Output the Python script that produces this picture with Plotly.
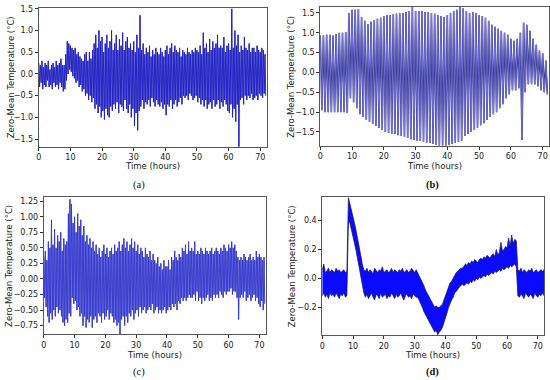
import plotly.graph_objects as go

# ---------------- data ----------------
hours_ticks = [0, 10, 20, 30, 40, 50, 60, 70]

# panel (a): half-hour spike highs / lows, t = 0, 0.5, ..., 71.5
a_hi = [0.25,0.2,0.3,0.15,0.25,0.2,0.3,0.1,0.2,0.25,0.15,0.3,0.2,0.25,0.35,0.2,
        0.2,0.45,0.75,0.7, 0.65,0.6,0.55,0.6, 0.45,0.5,0.4,0.35, 0.3,0.45,0.5,0.3,
        0.5,0.35,0.55,0.7, 0.9,0.6,1.0,0.75, 0.85,0.5,0.7,0.9, 0.6,0.75,1.0,0.55,
        0.7,0.9,0.55,0.8, 0.65,0.95,0.55,0.75, 0.85,0.6,0.7,0.55, 0.75,0.5,0.9,0.6,
        1.35,0.55,0.7,0.45, 0.6,0.5,0.65,0.4, 0.55,0.45,0.6,0.5, 0.45,0.6,0.5,0.4,
        0.55,0.65,0.45,0.6, 0.7,0.5,0.65,0.55, 0.5,0.6,0.4,0.55, 0.5,0.45,0.6,0.5,
        0.45,0.55,0.5,0.6, 0.55,0.5,0.65,0.45, 0.95,0.6,0.7,0.5, 0.8,0.55,0.75,0.6,
        0.7,0.9,0.6,0.65, 0.6,0.85,0.5,0.65, 0.7,0.55,1.5,0.6, 1.0,0.65,0.9,0.5,
        0.65,0.55,0.85,0.6, 0.55,0.7,0.5,0.6, 0.6,0.5,0.65,0.55, 0.5,0.6,0.55,0.45]
a_lo = [-0.3,-0.2,-0.35,-0.25,-0.3,-0.15,-0.3,-0.25,-0.35,-0.2,-0.3,-0.25,-0.35,-0.2,-0.3,-0.4,
        -0.35,-0.15,0.0,0.1, 0.05,-0.05,-0.1,-0.2, -0.15,-0.3,-0.25,-0.4, -0.35,-0.5,-0.45,-0.6,
        -0.5,-0.65,-0.55,-0.8, -0.7,-0.9,-0.75,-1.0, -0.85,-1.05,-0.8,-0.95, -1.0,-0.75,-0.85,-0.7,
        -0.8,-0.65,-0.9,-0.7, -0.75,-0.85,-0.6,-0.8, -0.9,-0.7,-1.0,-0.8, -1.2,-0.9,-1.3,-0.85,
        -0.75,-0.6,-0.8,-0.65, -0.7,-0.6,-0.75,-0.55, -0.65,-0.75,-0.6,-0.7, -0.75,-0.65,-0.8,-0.7,
        -0.95,-0.7,-0.75,-0.6, -0.8,-0.7,-0.6,-0.75, -0.65,-0.55,-0.7,-0.5, -0.55,-0.5,-0.6,-0.45,
        -0.5,-0.6,-0.55,-0.5, -0.65,-0.55,-0.7,-0.6, -0.75,-0.6,-0.8,-0.7, -0.65,-0.8,-0.6,-0.75,
        -0.7,-0.6,-0.8,-0.65, -0.75,-0.6,-0.7,-0.85, -0.9,-0.7,-1.0,-0.8, -1.1,-0.7,-1.68,-0.6,
        -0.55,-0.7,-0.5,-0.6, -0.5,-0.55,-0.45,-0.6, -0.55,-0.5,-0.6,-0.45, -0.5,-0.55,-0.45,-0.5]

# panel (b): hourly cycle highs / lows, t = 0 .. 71
b_hi = [0.93,0.93,0.95,0.95,0.93,0.97,1.0,1.0,1.02,1.5,
        1.58,1.58,1.6,1.4,1.3,1.22,1.28,1.32,1.35,1.38,
        1.42,1.45,1.45,1.47,1.48,1.5,1.5,1.52,1.54,1.65,
        1.55,1.55,1.55,1.52,1.52,1.5,1.48,1.45,1.42,1.4,
        1.45,1.5,1.55,1.58,1.65,1.62,1.55,1.5,1.52,1.5,
        1.45,1.42,1.38,1.3,1.2,1.15,1.1,1.05,1.0,0.95,
        0.85,0.8,0.85,1.0,1.25,1.2,1.05,0.85,0.7,0.55,
        0.48,0.3]
b_lo = [-0.95,-1.0,-1.0,-1.0,-1.0,-1.0,-1.0,-1.0,-1.02,-0.65,
        -0.75,-0.9,-1.05,-1.12,-1.2,-1.25,-1.3,-1.35,-1.4,-1.45,
        -1.5,-1.52,-1.55,-1.55,-1.58,-1.6,-1.62,-1.65,-1.68,-1.7,
        -1.72,-1.72,-1.75,-1.77,-1.78,-1.8,-1.82,-1.85,-1.85,-1.85,
        -1.83,-1.8,-1.78,-1.75,-1.72,-1.6,-1.55,-1.5,-1.45,-1.4,
        -1.33,-1.28,-1.2,-1.12,-1.05,-1.0,-0.9,-0.8,-0.65,-0.55,
        -0.45,-0.45,-0.4,-1.7,-0.5,-0.3,-0.3,-0.3,-0.35,-0.45,
        -0.5,-0.55]

# panel (c): half-hour spike highs / lows, t = 0, 0.5, ..., 71.5
c_hi = [0.35,0.45,0.3,0.6,0.5,0.95,0.55,0.8,0.5,0.7,0.6,0.75,0.45,0.65,0.55,0.6,
        1.05,1.28,1.2,0.9, 1.0,0.75,1.05,0.85, 0.95,0.7,0.85,0.6, 0.7,0.55,0.65,0.5,
        0.6,0.45,0.55,0.4, 0.5,0.35,0.45,0.55, 0.4,0.5,0.35,0.45, 0.5,0.4,0.55,0.45,
        0.5,0.6,0.45,0.55, 0.65,0.5,0.6,0.45, 0.55,0.65,0.5,0.6, 0.45,0.55,0.4,0.5,
        0.45,0.35,0.5,0.4, 0.35,0.45,0.3,0.4, 0.3,0.25,0.35,0.2, 0.25,0.15,0.3,0.2,
        0.2,0.3,0.15,0.35, 0.3,0.45,0.35,0.3, 0.4,0.35,0.5,0.45, 0.55,0.4,0.6,0.45,
        0.5,0.45,0.6,0.4, 0.45,0.4,0.5,0.45, 0.4,0.5,0.45,0.4, 0.45,0.5,0.4,0.45,
        0.5,0.45,0.4,0.5, 0.45,0.55,0.5,0.45, 0.55,0.5,0.6,0.5, 0.55,0.45,0.35,0.3,
        0.35,0.3,0.4,0.35, 0.3,0.35,0.4,0.3, 0.35,0.3,0.45,0.35, 0.4,0.35,0.3,0.35]
c_lo = [-0.3,-0.45,-0.6,-0.7,-0.55,-0.65,-0.5,-0.6,-0.45,-0.55,-0.5,-0.6,-0.7,-0.75,-0.65,-0.7,
        -0.55,-0.6,-0.3,-0.4, -0.35,-0.5,-0.45,-0.6, -0.55,-0.75,-0.6,-0.78, -0.65,-0.7,-0.6,-0.78,
        -0.65,-0.6,-0.7,-0.55, -0.6,-0.7,-0.55,-0.65, -0.6,-0.5,-0.65,-0.55, -0.6,-0.7,-0.65,-0.75,
        -0.7,-0.89,-0.65,-0.6, -0.75,-0.6,-0.7,-0.55, -0.6,-0.5,-0.65,-0.55, -0.5,-0.6,-0.45,-0.55,
        -0.5,-0.45,-0.55,-0.5, -0.45,-0.5,-0.4,-0.55, -0.5,-0.45,-0.55,-0.5, -0.55,-0.5,-0.45,-0.55,
        -0.5,-0.45,-0.5,-0.4, -0.45,-0.4,-0.5,-0.35, -0.4,-0.3,-0.35,-0.3, -0.35,-0.3,-0.25,-0.3,
        -0.3,-0.25,-0.35,-0.2, -0.35,-0.3,-0.4,-0.3, -0.35,-0.3,-0.25,-0.35, -0.3,-0.35,-0.25,-0.3,
        -0.25,-0.3,-0.2,-0.25, -0.3,-0.2,-0.25,-0.2, -0.2,-0.15,-0.25,-0.2, -0.2,-0.3,-0.65,-0.3,
        -0.25,-0.3,-0.2,-0.35, -0.3,-0.25,-0.35,-0.3, -0.25,-0.35,-0.3,-0.4, -0.45,-0.35,-0.5,-0.4]

# panel (d): band upper / lower edge, t = 0, 0.5, ..., 72
d_hi = [0.06,0.1,0.04,0.05,0.07,0.04,0.06,0.05,0.04,0.07,0.05,0.06,0.04,0.05,0.06,0.04,
        0.05,0.56,
        0.52,0.48,0.43,0.38,0.33,0.28,0.22,0.16,0.1,0.06,
        0.05,0.07,0.04,0.06,0.05,0.03,0.07,0.05,0.04,0.06,0.05,0.08,0.04,0.05,0.06,0.04,0.05,
        0.07,0.04,0.06,0.05,0.04,0.06,0.05,0.07,0.04,0.05,0.06,0.04,0.05,0.07,0.05,0.04,0.06,
        0.04,0.02,0.0,-0.03,-0.05,-0.08,-0.1,-0.12,-0.15,-0.17,-0.18,-0.2,-0.19,-0.2,
        -0.2,-0.19,-0.18,-0.15,-0.12,-0.1,-0.06,-0.03,-0.02,0.0,0.03,0.04,0.05,0.06,0.07,0.07,
        0.09,0.1,0.09,0.11,0.1,0.12,0.11,0.13,0.12,0.11,0.13,0.14,0.13,0.15,0.14,0.16,0.15,
        0.14,0.16,0.17,0.15,0.2,0.16,0.18,0.25,0.19,0.2,0.22,0.21,0.28,0.22,0.3,0.24,0.27,
        0.26,0.06,0.05,0.07,0.04,0.06,0.05,0.04,0.06,0.05,0.07,0.04,0.05,0.06,0.04,0.05,0.06,0.05,0.06]
d_lo = [-0.12,-0.1,-0.13,-0.11,-0.14,-0.1,-0.12,-0.11,-0.13,-0.1,-0.12,-0.14,-0.11,-0.12,-0.1,-0.13,
        -0.12,0.4,
        0.38,0.34,0.29,0.24,0.19,0.13,0.07,0.01,-0.05,-0.1,
        -0.13,-0.11,-0.14,-0.12,-0.1,-0.13,-0.15,-0.11,-0.12,-0.14,-0.1,-0.13,-0.12,-0.11,-0.14,-0.12,-0.13,
        -0.1,-0.12,-0.14,-0.11,-0.13,-0.12,-0.1,-0.13,-0.15,-0.12,-0.11,-0.13,-0.12,-0.14,-0.11,-0.12,-0.13,
        -0.13,-0.15,-0.17,-0.2,-0.23,-0.25,-0.28,-0.3,-0.32,-0.34,-0.35,-0.37,-0.36,-0.39,
        -0.37,-0.36,-0.34,-0.3,-0.27,-0.24,-0.2,-0.17,-0.15,-0.13,-0.1,-0.09,-0.07,-0.06,-0.05,-0.04,
        -0.05,-0.04,-0.03,-0.04,-0.02,-0.03,-0.01,-0.02,0.0,-0.01,0.01,0.0,0.01,0.02,0.01,0.03,0.02,
        0.03,0.04,0.03,0.05,0.04,0.05,0.06,0.05,0.07,0.06,0.07,0.08,0.07,0.09,0.08,0.09,0.1,
        0.08,-0.12,-0.13,-0.11,-0.12,-0.14,-0.1,-0.12,-0.13,-0.11,-0.12,-0.14,-0.1,-0.12,-0.13,-0.11,-0.12,-0.1,-0.12]

captions = ["(a)", "(b)", "(c)", "(d)"]
x_title = "Time (hours)"
y_title = "Zero-Mean Temperature (°C)"


def zigzag(step, hi, lo, lag):
    xs, ys = [], []
    for i, (h, l) in enumerate(zip(hi, lo)):
        xs += [i * step, i * step + lag]
        ys += [h, l]
    return xs, ys


NAVY = "#141450"
BLUE = "#0a0aff"

fig = go.Figure()

# (a)
xa, ya = zigzag(0.5, a_hi, a_lo, 0.25)
fig.add_trace(go.Scatter(x=xa, y=ya, mode="lines", line=dict(color=NAVY, width=1.0),
                         opacity=0.75, xaxis="x", yaxis="y", showlegend=False))
fig.add_trace(go.Scatter(x=xa, y=ya, mode="lines", line=dict(color=BLUE, width=0.6),
                         opacity=0.85, xaxis="x", yaxis="y", showlegend=False))
# (b)
xb, yb = zigzag(1.0, b_hi, b_lo, 0.5)
fig.add_trace(go.Scatter(x=xb, y=yb, mode="lines", line=dict(color=NAVY, width=1.5),
                         xaxis="x2", yaxis="y2", showlegend=False))
fig.add_trace(go.Scatter(x=xb, y=yb, mode="lines", line=dict(color="#7878f2", width=0.9),
                         xaxis="x2", yaxis="y2", showlegend=False))
# (c)
xc, yc = zigzag(0.5, c_hi, c_lo, 0.25)
fig.add_trace(go.Scatter(x=xc, y=yc, mode="lines", line=dict(color="#1c2a6a", width=1.0),
                         opacity=0.75, xaxis="x3", yaxis="y3", showlegend=False))
fig.add_trace(go.Scatter(x=xc, y=yc, mode="lines", line=dict(color="#2a2aff", width=0.6),
                         opacity=0.85, xaxis="x3", yaxis="y3", showlegend=False))
# (d)
td = [i * 0.5 for i in range(len(d_hi))]
fig.add_trace(go.Scatter(x=td, y=d_lo, mode="lines", line=dict(color=NAVY, width=0.7),
                         xaxis="x4", yaxis="y4", showlegend=False))
fig.add_trace(go.Scatter(x=td, y=d_hi, mode="lines", line=dict(color=NAVY, width=0.7),
                         fill="tonexty", fillcolor=BLUE,
                         xaxis="x4", yaxis="y4", showlegend=False))

FONT = "DejaVu Sans"
common_x = dict(range=[0, 72], tickvals=hours_ticks, showline=True, mirror=True,
                linecolor="#555", linewidth=1, ticks="outside", ticklen=3,
                tickcolor="#333", tickfont=dict(size=8, color="#222", family=FONT),
                showgrid=False, zeroline=False)
common_y = dict(showline=True, mirror=True, linecolor="#555", linewidth=1,
                ticks="outside", ticklen=3, tickcolor="#333",
                tickfont=dict(size=8, color="#222", family=FONT),
                showgrid=False, zeroline=False)

dom = {
    "a": ([36/550, 265/550], [1-145/380, 1-5/380]),
    "b": ([319/550, 549/550], [1-144/380, 1-4/380]),
    "c": ([41/550, 264/550], [1-334/380, 1-196/380]),
    "d": ([321/550, 544/550], [1-335/380, 1-196/380]),
}

fig.update_layout(
    width=550, height=380, margin=dict(l=0, r=0, t=0, b=0),
    paper_bgcolor="white", plot_bgcolor="white",
    xaxis=dict(common_x, domain=dom["a"][0], anchor="y"),
    yaxis=dict(common_y, domain=dom["a"][1], anchor="x", range=[-1.68, 1.52],
               tickvals=[-1.5, -1.0, -0.5, 0, 0.5, 1.0, 1.5], tickformat=".1f"),
    xaxis2=dict(common_x, domain=dom["b"][0], anchor="y2"),
    yaxis2=dict(common_y, domain=dom["b"][1], anchor="x2", range=[-1.85, 1.65],
                tickvals=[-1.5, -1.0, -0.5, 0, 0.5, 1.0, 1.5], tickformat=".1f"),
    xaxis3=dict(common_x, domain=dom["c"][0], anchor="y3"),
    yaxis3=dict(common_y, domain=dom["c"][1], anchor="x3", range=[-0.89, 1.31],
                tickvals=[-0.75, -0.5, -0.25, 0, 0.25, 0.5, 0.75, 1.0, 1.25], tickformat=".2f"),
    xaxis4=dict(common_x, domain=dom["d"][0], anchor="y4"),
    yaxis4=dict(common_y, domain=dom["d"][1], anchor="x4", range=[-0.394, 0.56],
                tickvals=[-0.2, 0, 0.2, 0.4], tickformat=".1f"),
)

ann = []
tfont = dict(size=8.5, color="#222", family=FONT)
# x titles
for xc_, yc_ in [(150, 164), (434, 164), (152, 355), (432, 355)]:
    ann.append(dict(text=x_title, x=xc_/550, y=1-yc_/380, xref="paper", yref="paper",
                    showarrow=False, font=tfont, xanchor="center", yanchor="middle"))
# y titles
for xc_, yc_ in [(8, 75), (290, 74), (6, 265), (290, 265)]:
    ann.append(dict(text=y_title, x=xc_/550, y=1-yc_/380, xref="paper", yref="paper",
                    showarrow=False, font=tfont, textangle=-90,
                    xanchor="center", yanchor="middle"))
# captions
for cap, (xc_, yc_), bold in zip(captions, [(137, 183), (432, 183), (137, 372), (432, 372)],
                                 [False, True, False, True]):
    txt = f"<b>{cap}</b>" if bold else cap
    ann.append(dict(text=txt, x=xc_/550, y=1-yc_/380, xref="paper", yref="paper",
                    showarrow=False, font=dict(size=10.5, color="#111", family="Liberation Serif"),
                    xanchor="center", yanchor="middle"))
fig.update_layout(annotations=ann)

fig.write_html("out.html", config={"displayModeBar": False},
               post_script="document.body.style.margin='0';document.body.style.overflow='hidden';")
